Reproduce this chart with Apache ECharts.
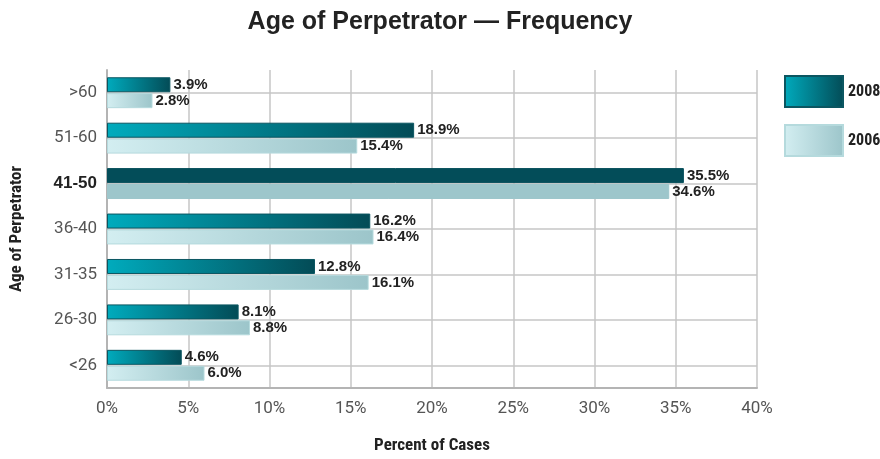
<!DOCTYPE html>
<html>
<head>
<meta charset="utf-8">
<script src="https://cdn.jsdelivr.net/npm/echarts@6/dist/echarts.min.js"></script>
<style>
  html, body { margin: 0; padding: 0; background: #fff; }
  #chart { width: 880px; height: 459px; }
</style>
</head>
<body>
<div id="chart"></div>
<script>
// Age groups, listed top to bottom
const ageGroups = ['>60', '51-60', '41-50', '36-40', '31-35', '26-30', '<26'];
const share2008 = [3.9, 18.9, 35.5, 16.2, 12.8, 8.1, 4.6];
const share2006 = [2.8, 15.4, 34.6, 16.4, 16.1, 8.8, 6.0];
const xTicks = [0, 5, 10, 15, 20, 25, 30, 35, 40];
const highlightGroup = '41-50';

const SANS = '"Liberation Sans", Arial, sans-serif';
const NARROW = '"Liberation Sans Narrow", "Roboto Condensed", Roboto, sans-serif';
const LIGHT = 'Roboto, "Liberation Sans", sans-serif';

const grad = (a, b) => new echarts.graphic.LinearGradient(0, 0, 1, 0, [
  { offset: 0, color: a }, { offset: 1, color: b }
]);

const style2008 = { color: grad('#00abbd', '#034b56'), borderColor: '#0b5661', borderWidth: 1 };
const style2006 = { color: grad('#d3eef1', '#9cc5ca'), borderColor: '#b5dadd', borderWidth: 1 };
const solid2008 = { color: '#034d59', borderColor: '#034d59', borderWidth: 1 };
const solid2006 = { color: '#9dc6cb', borderColor: '#9dc6cb', borderWidth: 1 };

const toItems = (vals, solid) => vals.map((v, i) =>
  ageGroups[i] === highlightGroup ? { value: v, itemStyle: solid } : { value: v });

const labelCfg = {
  show: true,
  position: 'right',
  distance: 3,
  formatter: p => p.value.toFixed(1) + '%',
  fontFamily: SANS,
  fontWeight: 'bold',
  fontSize: 15,
  color: '#222'
};

const chart = echarts.init(document.getElementById('chart'), null, { renderer: 'canvas' });
chart.setOption({
  animation: false,
  backgroundColor: '#fff',
  title: {
    text: 'Age of Perpetrator — Frequency',
    left: 'center',
    top: 5,
    textStyle: { fontFamily: SANS, fontWeight: 'bold', fontSize: 25, color: '#222' }
  },
  legend: {
    orient: 'vertical',
    left: 779,
    top: 70,
    itemWidth: 58,
    itemHeight: 31,
    itemGap: 16,
    icon: 'rect',
    data: ['2008', '2006'],
    textStyle: { fontFamily: NARROW, fontWeight: 'bold', fontSize: 16, color: '#222' }
  },
  grid: { left: 106, right: 123, top: 70, bottom: 67, containLabel: false },
  xAxis: {
    type: 'value',
    min: 0,
    max: 40,
    interval: 5,
    name: 'Percent of Cases',
    nameLocation: 'middle',
    nameGap: 49,
    nameTextStyle: { fontFamily: NARROW, fontWeight: 'bold', fontSize: 17, color: '#222' },
    axisLine: { show: true, lineStyle: { color: '#b4b4b4', width: 2 } },
    axisTick: { show: false },
    axisLabel: {
      formatter: v => (xTicks.includes(v) ? v + '%' : ''),
      margin: 12,
      fontFamily: LIGHT,
      fontSize: 17,
      color: '#555'
    },
    splitLine: { show: true, lineStyle: { color: '#c6c6c6', width: 1.5 } }
  },
  yAxis: {
    type: 'category',
    inverse: true,
    data: ageGroups,
    name: 'Age of Perpetrator',
    nameLocation: 'middle',
    nameGap: 82,
    nameRotate: 90,
    nameTextStyle: { fontFamily: NARROW, fontWeight: 'bold', fontSize: 17, color: '#222' },
    axisLine: { show: true, lineStyle: { color: '#b4b4b4', width: 2 } },
    axisTick: { show: false },
    axisLabel: {
      margin: 10,
      fontFamily: LIGHT,
      fontSize: 17,
      color: '#555',
      formatter: v => (v === highlightGroup ? '{b|' + v + '}' : v),
      rich: {
        b: { fontFamily: SANS, fontWeight: 'bold', fontSize: 17, color: '#222' }
      }
    },
    // guides run through the centre of each age group
    splitLine: {
      show: true,
      alignWithLabel: true,
      lineStyle: { color: '#c6c6c6', width: 1.5 }
    }
  },
  series: [
    {
      name: '2008',
      type: 'bar',
      data: toItems(share2008, solid2008),
      itemStyle: style2008,
      barWidth: 15,
      barGap: '6%',
      label: labelCfg,
      z: 3
    },
    {
      name: '2006',
      type: 'bar',
      data: toItems(share2006, solid2006),
      itemStyle: style2006,
      barWidth: 15,
      barGap: '6%',
      label: labelCfg,
      z: 3
    }
  ]
});
</script>
</body>
</html>
